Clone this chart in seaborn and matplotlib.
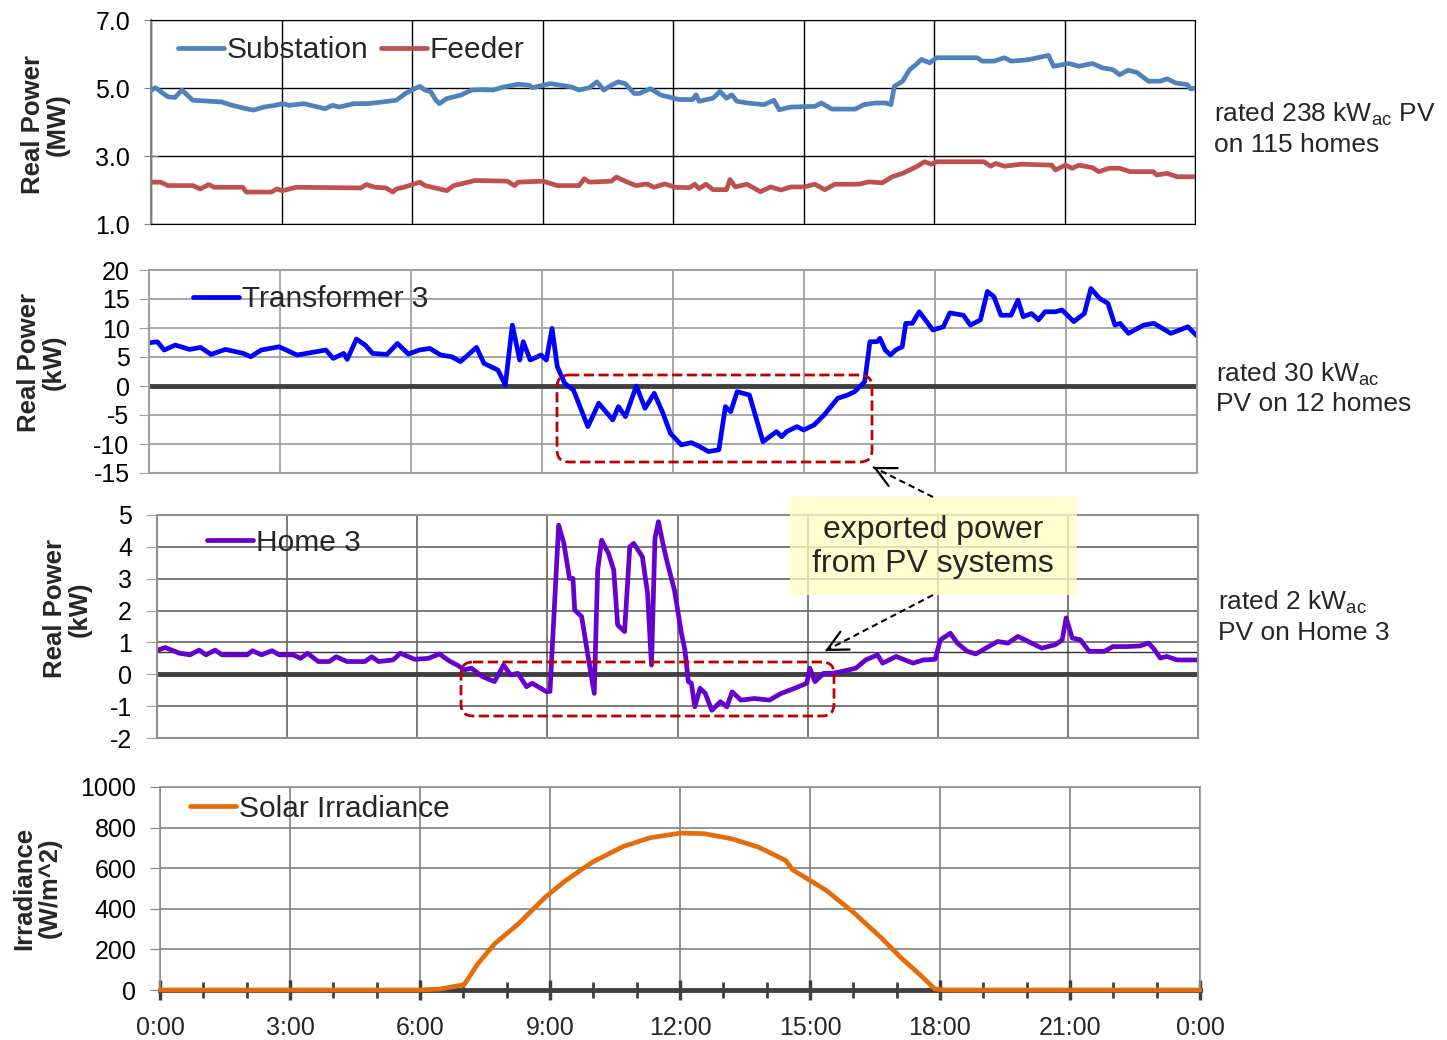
import numpy as np
import pandas as pd
import seaborn as sns
import matplotlib.pyplot as plt
from matplotlib.patches import FancyBboxPatch, Rectangle

# hours of the day and readings taken off the chart
sub_hours = [0.02, 0.1, 0.39, 0.55, 0.71, 0.96, 1.62, 1.87, 2.19, 2.36, 2.6, 2.85, 3.02, 3.18, 3.51,
             3.84, 4.0, 4.17, 4.33, 4.66, 4.99, 5.32, 5.64, 5.85, 6.06, 6.18, 6.3, 6.43, 6.55, 6.63,
             6.8, 7.12, 7.37, 7.62, 7.86, 8.11, 8.44, 8.69, 8.77, 9.01, 9.18, 9.42, 9.67, 9.84, 10.08,
             10.25, 10.41, 10.58, 10.74, 10.9, 11.11, 11.23, 11.48, 11.73, 11.89,
             12.14, 12.45, 12.53, 12.6, 12.92, 13.08, 13.23, 13.35, 13.47, 13.7, 14.09, 14.32, 14.44,
             14.71, 15.26, 15.41, 15.65, 16.19, 16.39, 16.66, 16.89, 17.01, 17.09, 17.28, 17.44,
             17.59, 17.71, 17.9, 18.06, 18.99, 19.11, 19.38, 19.62, 19.77, 20.09, 20.2, 20.63, 20.75,
             21.1, 21.33, 21.64, 21.88, 22.11, 22.27, 22.46, 22.66, 22.93, 23.2, 23.36, 23.55,
             23.82, 23.9, 24.0]
sub_mw = [4.94, 5.01, 4.74, 4.72, 4.94, 4.64, 4.59, 4.49, 4.39, 4.35, 4.44, 4.49, 4.54, 4.49, 4.54,
          4.44, 4.39, 4.49, 4.44, 4.54, 4.54, 4.59, 4.64, 4.84, 4.98, 5.05, 4.94, 4.89, 4.64, 4.54,
          4.69, 4.79, 4.94, 4.95, 4.94, 5.03, 5.11, 5.08, 5.01, 5.08, 5.13, 5.08, 5.03, 4.94, 5.01,
          5.18, 4.94, 5.08, 5.18, 5.13, 4.84, 4.84, 4.98, 4.79, 4.74,
          4.66, 4.66, 4.80, 4.61, 4.70, 4.90, 4.70, 4.80, 4.61, 4.56, 4.51, 4.64, 4.36,
          4.44, 4.46, 4.56, 4.38, 4.38, 4.51, 4.56, 4.56, 4.51, 5.05, 5.2, 5.54,
          5.69, 5.84, 5.74, 5.89, 5.89, 5.79, 5.79, 5.89, 5.79, 5.82, 5.84, 5.96, 5.64,
          5.72, 5.64, 5.72, 5.59, 5.54, 5.39, 5.52, 5.46, 5.2, 5.2, 5.27, 5.15,
          5.1, 4.97, 5.0]

feeder_hours = [0.02, 0.22, 0.39, 0.96, 1.13, 1.33, 1.45, 2.11, 2.19, 2.77, 2.89, 3.02, 3.34, 4.82,
                4.95, 5.15, 5.4, 5.56, 5.64, 5.81, 6.18, 6.3, 6.63, 6.8, 6.96, 7.29, 7.45, 8.19,
                8.36, 8.44, 9.01, 9.34, 9.84, 9.96, 10.08, 10.58, 10.7, 10.9, 11.15, 11.4, 11.56,
                11.81, 12.05, 12.38, 12.5, 12.6, 12.76, 12.92, 13.23, 13.31, 13.43, 13.7, 14.01,
                14.24, 14.48, 14.71, 15.02, 15.26, 15.49, 15.72, 16.27, 16.5, 16.81, 17.04, 17.28,
                17.59, 17.78, 17.94, 18.06, 19.15, 19.3, 19.42, 19.62, 20.01, 20.71, 20.79, 21.02,
                21.18, 21.33, 21.64, 21.79, 22.03, 22.27, 22.5, 23.04, 23.12, 23.36, 23.59, 24.0]
feeder_mw = [2.23, 2.23, 2.13, 2.13, 2.03, 2.16, 2.08, 2.08, 1.94, 1.94, 2.03, 1.98, 2.08, 2.06,
             2.16, 2.08, 2.06, 1.94, 2.03, 2.08, 2.23, 2.13, 2.03, 1.98, 2.13, 2.23, 2.28, 2.26,
             2.13, 2.23, 2.26, 2.13, 2.13, 2.33, 2.23, 2.26, 2.38, 2.26, 2.13, 2.18, 2.08,
             2.18, 2.08, 2.07, 2.17, 2.04, 2.17, 2.01, 2.01, 2.31, 2.09, 2.17, 1.95,
             2.09, 2.0, 2.09, 2.09, 2.17, 2.01, 2.17, 2.17, 2.24, 2.21, 2.39, 2.49,
             2.68, 2.83, 2.76, 2.83, 2.83, 2.7, 2.78, 2.7, 2.76, 2.73, 2.59, 2.73,
             2.64, 2.73, 2.66, 2.54, 2.64, 2.64, 2.54, 2.54, 2.44, 2.49, 2.39, 2.39]

tx_hours = [0.02, 0.19, 0.35, 0.6, 0.93, 1.18, 1.42, 1.75, 2.16, 2.33, 2.57, 2.98, 3.39, 4.05, 4.22,
            4.46, 4.54, 4.75, 4.95, 5.12, 5.45, 5.69, 5.94, 6.19, 6.43, 6.68, 6.93, 7.13, 7.5, 7.67,
            7.83, 7.99, 8.16, 8.32, 8.49, 8.57, 8.73, 8.98, 9.1, 9.23, 9.35, 9.52, 9.72, 10.05, 10.3,
            10.62, 10.75, 10.91, 11.16, 11.36, 11.57, 11.77, 11.94, 12.19, 12.42, 12.6, 12.81,
            13.05, 13.2, 13.32, 13.47, 13.75, 14.06, 14.37, 14.49, 14.6, 14.84, 14.99, 15.23,
            15.46, 15.77, 16.0, 16.16, 16.39, 16.51, 16.67, 16.74, 16.86, 16.98, 17.1, 17.25,
            17.33, 17.48, 17.64, 17.95, 18.19, 18.34, 18.65, 18.81, 19.04, 19.2, 19.35, 19.51,
            19.74, 19.9, 20.02, 20.21, 20.37, 20.52, 20.76, 20.91, 21.18, 21.42, 21.57, 21.77,
            21.96, 22.12, 22.24, 22.43, 22.78, 23.01, 23.4, 23.79, 24.0]
tx_kw = [7.46, 7.63, 6.2, 7.06, 6.31, 6.66, 5.45, 6.31, 5.62, 5.05, 6.2, 6.77, 5.34, 6.2, 4.76,
         5.62, 4.59, 8.09, 7.06, 5.62, 5.45, 7.34, 5.51, 6.2, 6.48, 5.34, 5.05, 4.19, 6.66, 3.9,
         3.33, 2.75, 0.17, 10.5, 4.48, 7.63, 4.48, 5.34, 4.48, 9.93, 3.33, 0.46, -0.69, -7.0, -2.98,
         -5.85, -3.56, -5.28, 0.0, -3.84, -1.26, -4.7, -8.15, -10.15, -9.77, -10.4, -11.3,
         -11.0, -3.56, -4.43, -0.98, -1.55, -9.6, -7.87, -8.74, -7.87, -7.0, -7.59, -6.72,
         -5.0, -2.13, -1.55, -0.98, 0.75, 7.64, 7.64, 8.22, 6.2, 5.34, 6.2, 6.78,
         10.8, 10.8, 12.8, 9.66, 10.2, 12.6, 12.2, 10.5, 11.4, 16.3, 15.4, 12.2,
         12.2, 14.8, 11.95, 12.5, 11.4, 12.8, 12.8, 13.1, 11.1, 12.5, 16.8, 15.1,
         14.25, 10.5, 10.8, 9.08, 10.5, 10.8, 9.08, 10.2, 8.62]

home_hours = [0.02, 0.19, 0.52, 0.76, 0.97, 1.13, 1.34, 1.5, 2.08, 2.2, 2.41, 2.65, 2.82, 3.14, 3.31,
              3.47, 3.72, 3.97, 4.13, 4.38, 4.79, 4.95, 5.11, 5.44, 5.61, 5.94, 6.26, 6.51, 6.76,
              6.92, 7.09, 7.25, 7.5, 7.78, 7.99, 8.15, 8.32, 8.52, 8.65, 8.97, 9.06, 9.26, 9.38,
              9.51, 9.59, 9.63, 9.79, 9.92, 10.08, 10.16, 10.25, 10.41, 10.53, 10.62, 10.78, 10.9,
              10.99, 11.19, 11.31, 11.4, 11.48, 11.56, 11.68, 11.76, 11.93, 12.09, 12.17, 12.25,
              12.32, 12.4, 12.52, 12.64, 12.79, 12.99, 13.14, 13.26, 13.46, 13.77, 14.12, 14.39,
              14.7, 14.98, 15.05, 15.17, 15.37, 15.56, 15.76, 16.11, 16.34, 16.61, 16.73, 17.04,
              17.43, 17.67, 17.94, 18.06, 18.29, 18.45, 18.68, 18.88, 19.07, 19.38, 19.62, 19.85,
              20.16, 20.4, 20.71, 20.87, 20.96, 21.1, 21.29, 21.49, 21.84, 22.04, 22.35, 22.66,
              22.86, 22.97, 23.13, 23.28, 23.52, 24.0]
home_kw = [0.76, 0.84, 0.66, 0.61, 0.76, 0.61, 0.76, 0.61, 0.61, 0.74, 0.61, 0.74, 0.61, 0.61, 0.5,
           0.66, 0.4, 0.4, 0.55, 0.4, 0.4, 0.55, 0.4, 0.45, 0.66, 0.47, 0.5, 0.64, 0.4,
           0.29, 0.14, 0.19, -0.07, -0.23, 0.29, -0.02, 0.03, -0.39, -0.28, -0.54, -0.54, 4.68, 4.11,
           3.01, 3.01, 2.02, 1.81, 0.71, -0.6, 3.27, 4.21, 3.79, 3.27, 1.55, 1.34, 4.0,
           4.11, 3.69, 2.54, 0.29, 4.26, 4.79, 4.0, 3.53, 2.64, 1.29, 0.77, -0.23,
           -0.28, -1.02, -0.44, -0.6, -1.13, -0.86, -1.02, -0.55, -0.81, -0.76, -0.81, -0.6,
           -0.44, -0.28, 0.19, -0.23, 0.03, 0.03, 0.08, 0.19, 0.45, 0.61, 0.35, 0.56,
           0.35, 0.45, 0.47, 1.08, 1.29, 0.98, 0.72, 0.64, 0.79, 1.03, 0.98, 1.19,
           0.98, 0.82, 0.93, 1.08, 1.77, 1.14, 1.08, 0.72, 0.72, 0.87, 0.87, 0.89,
           0.98, 0.82, 0.51, 0.56, 0.45, 0.45]

sun_hours = [0.0, 6.0, 6.47, 7.02, 7.33, 7.72, 8.27, 8.89, 9.36, 9.98, 10.69, 11.31, 12.02, 12.56,
             13.19, 13.81, 14.44, 14.6, 15.38, 16.0, 16.63, 17.09, 17.56, 17.88, 18.11, 24.0]
sun_wm2 = [0, 0, 5, 26, 128, 227, 326, 457, 539, 630, 707, 750, 773, 770,
           745, 704, 638, 592, 490, 383, 260, 161, 71, 5, 0, 0]

hour_ticks = list(range(0, 25, 3))
hour_labels = ['0:00', '3:00', '6:00', '9:00', '12:00', '15:00', '18:00', '21:00', '0:00']

sns.set_style("white")
plt.rcParams['font.family'] = ['Liberation Sans', 'DejaVu Sans']
plt.rcParams['mathtext.fontset'] = 'custom'
plt.rcParams['mathtext.rm'] = 'Liberation Sans'
plt.rcParams['axes.unicode_minus'] = False

W, H = 1447, 1040
fig = plt.figure(figsize=(W / 100, H / 100), dpi=100)


def px_axes(left, top, right, bottom):
    return fig.add_axes([left / W, 1 - bottom / H, (right - left) / W, (bottom - top) / H])


def add_legend(ax, x, y):
    ax.legend(loc='center left', bbox_to_anchor=(x, y), frameon=False, fontsize=21.5,
              ncol=2, handlelength=1.55, handletextpad=0.08, columnspacing=0.4,
              borderpad=0, borderaxespad=0)


# Panel 1: substation and feeder
ax1 = px_axes(151, 20, 1195, 224)
sns.lineplot(x=sub_hours, y=sub_mw, ax=ax1, color='#4F81BD', linewidth=3.4,
             label='Substation', estimator=None)
sns.lineplot(x=feeder_hours, y=feeder_mw, ax=ax1, color='#C0504D', linewidth=3.4,
             label='Feeder', estimator=None)
ax1.set_ylim(1, 7)
ax1.set_yticks([1, 3, 5, 7])
ax1.set_yticklabels(['1.0', '3.0', '5.0', '7.0'])
ax1.set_yticks(np.arange(1, 7.01, 0.5), minor=True)
ax1.grid(True, which='major', color='black', linewidth=1)
ax1.tick_params(axis='y', which='both', direction='inout', length=10, color='#808080',
                labelsize=18, pad=10)
for s in ['top', 'right', 'bottom']:
    ax1.spines[s].set_color('black')
ax1.spines['left'].set_color('#808080')
ax1.spines['left'].set_linewidth(1.5)
add_legend(ax1, 0.026, 0.853)

# Panel 2: transformer
ax2 = px_axes(149, 270, 1197, 473)
ax2.axhline(0, color='#404040', linewidth=3.5, zorder=1.5)
sns.lineplot(x=tx_hours, y=tx_kw, ax=ax2, color='#0000FF', linewidth=3.4,
             label='Transformer 3', estimator=None)
ax2.set_ylim(-15, 20)
ax2.set_yticks(range(-15, 21, 5))
ax2.grid(True, color='#A0A0A0', linewidth=1.3)
ax2.tick_params(axis='y', direction='out', length=7, color='#A0A0A0', labelsize=18, pad=7)
for s in ax2.spines.values():
    s.set_color('#A0A0A0')
    s.set_linewidth(1.5)
add_legend(ax2, 0.042, 0.855)

# Panel 3: home 3
ax3 = px_axes(157, 515, 1198, 738)
ax3.axhline(0, color='#404040', linewidth=3.5, zorder=1.5)
ax3.axhline(0.7, color='#333333', linewidth=1, zorder=1.5)
sns.lineplot(x=home_hours, y=home_kw, ax=ax3, color='#6600CC', linewidth=3.4,
             label='Home 3', estimator=None)
ax3.set_ylim(-2, 5)
ax3.set_yticks(range(-2, 6))
ax3.grid(True, color='#707070', linewidth=1.3)
ax3.tick_params(axis='y', direction='out', length=8, color='#A0A0A0', labelsize=18, pad=10)
for s in ax3.spines.values():
    s.set_color('#909090')
    s.set_linewidth(1.5)
add_legend(ax3, 0.048, 0.875)

# Panel 4: solar irradiance
ax4 = px_axes(160, 787, 1200, 990)
sns.lineplot(x=sun_hours, y=sun_wm2, ax=ax4, color='#E46C0A', linewidth=3.4,
             label='Solar Irradiance', estimator=None)
for line in ax4.lines:
    line.set_clip_on(False)
    line.set_zorder(4)
ax4.set_ylim(0, 1000)
ax4.set_yticks(range(0, 1001, 200))
ax4.grid(True, color='#808080', linewidth=1.2)
ax4.tick_params(axis='y', direction='out', length=7, color='#808080', labelsize=18, pad=10)
for s in ax4.spines.values():
    s.set_color('#909090')
    s.set_linewidth(1.2)
ax4.spines['bottom'].set_color('#404040')
ax4.spines['bottom'].set_linewidth(3.5)
add_legend(ax4, 0.029, 0.893)

for ax in [ax1, ax2, ax3, ax4]:
    ax.set_xlim(0, 24)
    ax.set_xticks(hour_ticks)
    ax.set_xlabel('')
    ax.set_ylabel('')
    ax.set_axisbelow(True)
    ax.tick_params(axis='y', left=True, labelcolor='black')
    if ax is not ax4:
        ax.set_xticklabels([])
        ax.tick_params(axis='x', length=0)

ax4.set_xticks(range(0, 25), minor=True)
ax4.set_xticklabels(hour_labels)
ax4.tick_params(axis='x', which='major', direction='inout', length=15, width=2.5,
                color='#404040', labelsize=18, pad=11, bottom=True)
ax4.tick_params(axis='x', which='minor', direction='inout', length=12, width=2,
                color='#404040', bottom=True)

# y axis titles
ylab = dict(rotation=90, ha='center', va='center', fontsize=18.5, fontweight='bold',
            linespacing=1.05)
fig.text(45 / W, 1 - 125 / H, 'Real Power\n(MW)', **ylab)
fig.text(41 / W, 1 - 362 / H, 'Real Power\n(kW)', **ylab)
fig.text(67 / W, 1 - 609 / H, 'Real Power\n(kW)', **ylab)
fig.text(37 / W, 1 - 888 / H, 'Irradiance\n(W/m^2)', **ylab)

# overlay in pixel coordinates for notes
ov = fig.add_axes([0, 0, 1, 1], zorder=10)
ov.set_xlim(0, W)
ov.set_ylim(H, 0)
ov.axis('off')

note = dict(fontsize=19, va='baseline', ha='left')
ov.text(1214, 121, r'rated 238 kW$_{\mathrm{ac}}$ PV', **note)
ov.text(1214, 152, 'on 115 homes', **note)
ov.text(1216, 381, r'rated 30 kW$_{\mathrm{ac}}$', **note)
ov.text(1216, 411, 'PV on 12 homes', **note)
ov.text(1218, 609, r'rated 2 kW$_{\mathrm{ac}}$', **note)
ov.text(1218, 640, 'PV on Home 3', **note)

for x0, y0, x1, y1 in [(557, 375, 872, 462), (461, 662, 834, 716)]:
    ov.add_patch(FancyBboxPatch((x0, y0), x1 - x0, y1 - y0,
                                boxstyle='round,pad=0,rounding_size=12',
                                fc='none', ec='#C00000', lw=2, ls='--'))

ov.add_patch(Rectangle((790, 497), 287, 98, fc='#FFFFC0', ec='none', alpha=0.75))
ov.text(933, 547, 'exported power\nfrom PV systems', fontsize=23, ha='center', va='center',
        linespacing=1.15)

# dashed pointer lines with solid open heads
for (xs, ys), (xe, ye) in [((933, 497), (873, 467)), ((933, 595), (825, 651))]:
    ov.plot([xs, xe], [ys, ye], color='black', lw=1.5, ls=(0, (3, 2)))
    dx, dy = xe - xs, ye - ys
    n = (dx ** 2 + dy ** 2) ** 0.5
    ov.annotate('', xy=(xe, ye), xytext=(xe - 3 * dx / n, ye - 3 * dy / n),
                arrowprops=dict(arrowstyle='->,head_length=0.8,head_width=0.4',
                                color='black', lw=1.6, mutation_scale=18,
                                shrinkA=0, shrinkB=0))

fig.savefig('out.png', dpi=100, facecolor='white')
